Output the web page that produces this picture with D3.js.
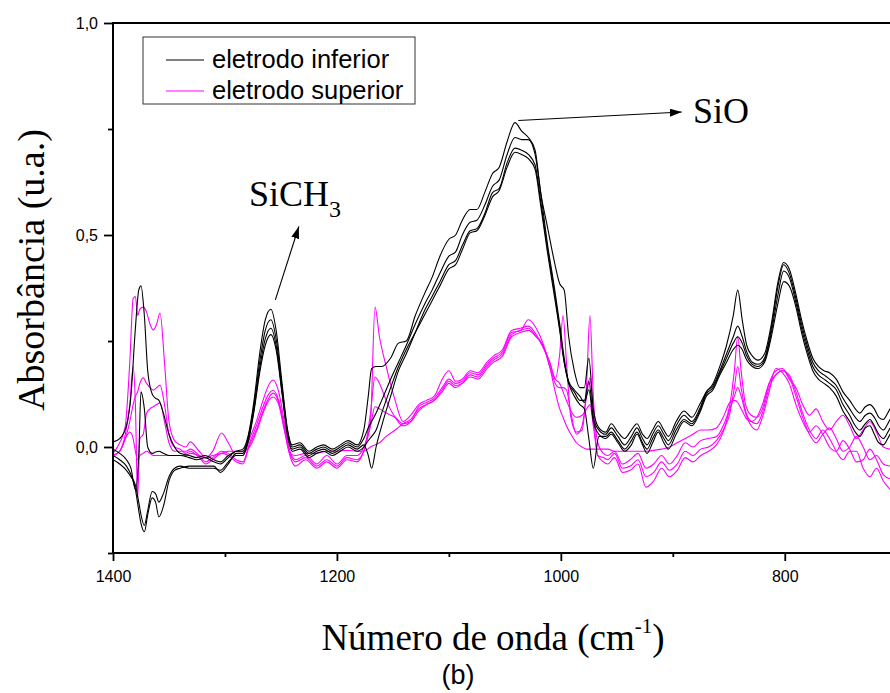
<!DOCTYPE html>
<html><head><meta charset="utf-8">
<script src="https://cdn.jsdelivr.net/npm/d3@7"></script>
<style>body{margin:0;background:#fff}svg{display:block}</style>
</head><body><svg id="c" width="890" height="693"></svg>
<script>
// ---------- DATA ----------
const seriesNames = ["eletrodo inferior", "eletrodo superior"];
const yTickLabels = ["0,0", "0,5", "1,0"];
const yTickValues = [0, 0.5, 1.0];
const yMinorTicks = [-0.25, 0.25, 0.75];
const xTickValues = [1400, 1200, 1000, 800];
const xMinorTicks = [1300, 1100, 900];

// wavenumbers (cm-1) for the "inferior" (black) spectra
const wnInferior = [1400,1394,1388,1384,1380,1377,1375,1372,1369,1365,1362,1359,1355,1350,1345,1340,
  1332,1325,1318,1310,1304,1297,1290,1284,
  1279,1274,1269,1264,1259,1254,1249,1244,1240,
  1233,1225,1218,1212,1204,1197,1190,1182,1176,
  1172,1169,1165,1160,1152,1145,1138,1130,
  1122,1115,1108,1100,1094,1088,1081,1075,1068,1061,1055,1048,1041,1035,1029,1023,
  1018,1012,1006,1001,997,993,988,983,979,975,971,966,960,
  955,949,943,937,932,927,923,918,913,908,904,897,890,883,876,870,
  864,858,852,846,842,838,834,829,824,818,812,806,
  801,796,790,785,780,775,770,765,760,754,748,742,737,733,728,724,720,716,712,708,706];

const inferior1 = [0.012,0.02,0.05,0.12,0.28,0.37,0.38,0.31,0.18,0.125,0.115,0.11,0.08,0.03,0.0,-0.015,
  -0.02,-0.025,-0.02,-0.03,-0.035,-0.02,-0.01,-0.005,
  0.03,0.11,0.22,0.3,0.325,0.27,0.15,0.04,0.005,
  0.01,-0.01,0.0,0.005,-0.005,0.005,0.015,0.005,0.04,
  0.12,0.185,0.19,0.19,0.21,0.245,0.25,0.31,
  0.36,0.4,0.45,0.49,0.5,0.535,0.56,0.56,0.6,0.645,0.66,0.72,0.765,0.745,0.73,0.7,
  0.6,0.52,0.44,0.385,0.37,0.26,0.18,0.14,0.14,0.21,0.09,0.045,0.035,
  0.055,0.035,0.02,0.04,0.055,0.03,0.02,0.04,0.06,0.04,0.025,0.06,0.085,0.07,0.1,0.13,
  0.15,0.19,0.24,0.31,0.37,0.3,0.24,0.215,0.205,0.22,0.29,0.39,
  0.435,0.42,0.36,0.3,0.25,0.21,0.19,0.18,0.175,0.16,0.13,0.11,0.09,0.08,0.095,0.1,0.09,0.07,0.065,0.08,0.09];

const inferior2 = [-0.005,-0.015,-0.03,-0.05,-0.1,-0.02,0.13,0.09,0.0,-0.015,-0.012,-0.01,-0.015,-0.02,-0.02,-0.02,
  -0.025,-0.03,-0.025,-0.035,-0.04,-0.025,-0.01,-0.01,
  0.025,0.1,0.2,0.275,0.3,0.25,0.14,0.035,0.0,
  0.005,-0.015,-0.005,0.0,-0.01,0.0,0.01,0.0,0.02,
  0.045,0.06,0.08,0.11,0.16,0.2,0.24,0.29,
  0.335,0.37,0.41,0.45,0.46,0.5,0.53,0.535,0.57,0.615,0.63,0.69,0.73,0.725,0.725,0.69,
  0.6,0.48,0.38,0.29,0.21,0.15,0.13,0.11,0.11,0.155,0.07,0.04,0.03,
  0.045,0.025,0.005,0.025,0.045,0.02,0.005,0.03,0.05,0.03,0.015,0.05,0.075,0.06,0.09,0.13,
  0.145,0.18,0.22,0.26,0.285,0.26,0.225,0.2,0.195,0.21,0.28,0.38,
  0.43,0.41,0.35,0.29,0.24,0.2,0.18,0.17,0.16,0.145,0.115,0.09,0.07,0.06,0.075,0.08,0.07,0.05,0.04,0.055,0.065];

const inferior3 = [-0.02,-0.03,-0.045,-0.065,-0.1,-0.15,-0.18,-0.2,-0.16,-0.12,-0.13,-0.165,-0.14,-0.08,-0.055,-0.05,
  -0.045,-0.045,-0.045,-0.045,-0.06,-0.04,-0.015,-0.015,
  0.02,0.09,0.185,0.255,0.28,0.235,0.13,0.03,-0.005,
  0.0,-0.02,-0.01,-0.005,-0.015,-0.005,0.005,-0.005,0.005,
  -0.02,-0.05,0.0,0.05,0.12,0.18,0.22,0.27,
  0.32,0.355,0.39,0.43,0.44,0.475,0.51,0.515,0.55,0.6,0.61,0.67,0.705,0.7,0.69,0.665,
  0.58,0.47,0.37,0.28,0.2,0.15,0.12,0.1,0.09,0.02,-0.05,0.025,0.025,
  0.035,0.015,-0.005,0.015,0.035,0.01,-0.005,0.02,0.04,0.02,0.005,0.04,0.065,0.055,0.085,0.125,
  0.14,0.175,0.21,0.245,0.26,0.245,0.215,0.195,0.19,0.205,0.27,0.36,
  0.415,0.4,0.34,0.28,0.23,0.19,0.17,0.16,0.15,0.135,0.1,0.075,0.05,0.04,0.055,0.065,0.05,0.03,0.02,0.035,0.045];

const inferior4 = [-0.03,-0.04,-0.055,-0.07,-0.09,-0.13,-0.16,-0.185,-0.15,-0.105,-0.11,-0.13,-0.11,-0.07,-0.05,-0.045,
  -0.05,-0.05,-0.05,-0.05,-0.055,-0.035,-0.02,-0.02,
  0.015,0.085,0.175,0.24,0.265,0.225,0.125,0.025,-0.01,
  -0.005,-0.025,-0.015,-0.01,-0.02,-0.01,0.0,-0.01,0.0,
  0.015,0.025,0.04,0.08,0.14,0.19,0.23,0.27,
  0.31,0.345,0.38,0.42,0.43,0.465,0.505,0.51,0.545,0.59,0.605,0.66,0.695,0.69,0.68,0.655,
  0.57,0.46,0.36,0.275,0.2,0.155,0.135,0.12,0.105,0.135,0.06,0.03,0.02,
  0.03,0.01,-0.01,0.005,0.03,0.005,-0.015,0.01,0.035,0.01,-0.005,0.03,0.06,0.05,0.08,0.12,
  0.135,0.17,0.2,0.23,0.24,0.23,0.205,0.19,0.185,0.2,0.26,0.34,
  0.39,0.38,0.33,0.27,0.22,0.18,0.16,0.15,0.14,0.12,0.085,0.06,0.035,0.025,0.045,0.05,0.03,0.01,0.005,0.02,0.03];

// wavenumbers (cm-1) for the "superior" (magenta) spectra
const wnSuperior = [1400,1394,1389,1385,1382,1380,1378,1376,1373,1370,1367,1364,1361,1358,1354,1350,1345,1340,
  1335,1331,1323,1317,1311,1303,1297,1290,1284,
  1278,1272,1266,1262,1257,1252,1247,1242,
  1237,1228,1218,1209,1200,1191,1182,1176,
  1170,1166,1162,1156,1148,1141,1134,
  1127,1120,1113,1106,1100,1094,1088,1081,1074,1066,1060,1052,1044,1036,1029,1022,1016,
  1010,1005,1001,998,995,991,986,981,977,974,971,967,962,
  958,952,945,938,931,924,917,910,903,896,889,882,875,868,861,
  855,849,845,842,839,835,830,825,820,814,808,
  802,796,790,784,778,772,766,760,754,748,742,736,730,724,718,712,706];

const superior1 = [-0.015,0.01,0.05,0.2,0.35,0.355,0.31,0.325,0.33,0.318,0.29,0.276,0.29,0.316,0.2,0.06,0.015,0.005,
  0.0,0.012,-0.01,-0.025,-0.01,0.033,0.01,-0.02,-0.02,
  0.02,0.06,0.11,0.14,0.158,0.13,0.06,-0.01,
  -0.03,-0.02,-0.04,-0.02,-0.04,-0.02,-0.02,0.0,
  0.06,0.33,0.26,0.19,0.11,0.06,0.075,
  0.1,0.11,0.12,0.16,0.18,0.155,0.16,0.18,0.175,0.2,0.215,0.23,0.275,0.28,0.285,0.265,0.235,
  0.2,0.16,0.22,0.31,0.2,0.07,0.035,0.04,0.15,0.31,0.12,0.01,-0.015,
  -0.02,-0.01,-0.04,-0.03,-0.015,-0.05,-0.04,-0.02,-0.04,-0.02,0.01,0.0,0.015,0.02,0.025,
  0.05,0.1,0.18,0.26,0.18,0.1,0.075,0.07,0.09,0.15,0.18,
  0.185,0.16,0.14,0.1,0.075,0.09,0.06,0.04,0.06,0.075,0.05,0.02,0.04,0.06,0.035,0.0,-0.005];

const superior2 = [-0.02,-0.01,0.03,0.1,0.19,0.1,-0.12,0.02,0.03,0.08,0.09,0.095,0.1,0.104,0.06,0.01,-0.01,-0.01,
  -0.01,-0.005,-0.02,-0.035,-0.025,-0.01,-0.015,-0.03,-0.035,
  0.01,0.05,0.095,0.12,0.134,0.11,0.05,-0.015,
  -0.035,-0.025,-0.045,-0.03,-0.045,-0.025,-0.03,-0.01,
  0.08,0.165,0.15,0.11,0.07,0.05,0.06,
  0.095,0.105,0.115,0.14,0.16,0.15,0.155,0.175,0.17,0.195,0.21,0.225,0.27,0.275,0.3,0.28,0.245,
  0.19,0.15,0.14,0.14,0.135,0.08,0.03,0.05,0.12,0.163,0.08,-0.02,-0.025,
  -0.03,-0.015,-0.05,-0.045,-0.03,-0.07,-0.06,-0.035,-0.055,-0.04,-0.01,-0.02,-0.005,0.0,0.015,
  0.04,0.08,0.14,0.19,0.14,0.085,0.06,0.055,0.08,0.14,0.17,
  0.18,0.165,0.12,0.07,0.03,0.01,0.03,0.045,0.02,-0.01,0.0,0.025,0.0,-0.03,-0.02,-0.04,-0.045];

const superior3 = [-0.02,-0.01,0.02,0.06,0.1,0.12,0.13,0.15,0.163,0.15,0.14,0.134,0.14,0.146,0.1,0.03,0.0,-0.005,
  -0.015,-0.01,-0.025,-0.04,-0.03,-0.015,-0.02,-0.035,-0.04,
  0.005,0.04,0.085,0.11,0.127,0.105,0.045,-0.02,
  -0.045,-0.03,-0.05,-0.035,-0.05,-0.03,-0.035,-0.01,
  0.05,0.095,0.09,0.08,0.07,0.055,0.06,
  0.085,0.1,0.11,0.135,0.155,0.145,0.15,0.17,0.165,0.19,0.205,0.22,0.265,0.275,0.28,0.26,0.24,
  0.2,0.16,0.15,0.13,0.11,0.085,0.07,0.075,0.09,0.1,0.05,-0.02,-0.035,
  -0.04,-0.025,-0.06,-0.055,-0.04,-0.095,-0.08,-0.05,-0.07,-0.055,-0.025,-0.035,-0.02,-0.01,0.005,
  0.035,0.09,0.12,0.14,0.12,0.08,0.05,0.04,0.07,0.13,0.185,
  0.175,0.15,0.1,0.06,0.035,0.05,0.03,0.0,-0.01,0.015,-0.005,-0.035,-0.03,-0.005,-0.03,-0.065,-0.075];

const superior4 = [-0.02,-0.01,0.02,0.035,0.02,-0.01,-0.03,-0.02,-0.015,-0.01,-0.015,-0.02,-0.02,-0.02,-0.02,-0.02,-0.02,-0.02,
  -0.02,-0.015,-0.02,-0.025,-0.02,-0.015,-0.01,-0.01,-0.01,
  0.0,0.035,0.08,0.105,0.118,0.1,0.04,-0.015,
  -0.02,-0.015,-0.015,-0.01,-0.01,-0.008,-0.01,-0.01,
  0.0,0.005,0.01,0.025,0.04,0.055,0.065,
  0.09,0.1,0.11,0.13,0.15,0.14,0.15,0.165,0.16,0.185,0.2,0.215,0.26,0.27,0.275,0.26,0.24,
  0.19,0.13,0.09,0.07,0.05,0.03,0.01,0.0,-0.005,-0.005,-0.005,-0.005,-0.005,
  -0.005,-0.01,-0.01,-0.01,-0.01,-0.01,-0.008,-0.005,0.0,0.01,0.02,0.03,0.04,0.04,0.045,
  0.07,0.105,0.11,0.105,0.09,0.07,0.06,0.07,0.1,0.15,0.17,
  0.18,0.17,0.13,0.08,0.04,0.02,0.04,0.02,-0.01,-0.03,-0.01,-0.01,-0.05,-0.07,-0.05,-0.08,-0.1];

// annotation anchors (data units)
const annotSiO = {from: [1038, 0.77], to: [892, 0.79], label: "SiO"};
const annotSiCH3 = {from: [1255, 0.347], to: [1234, 0.52], label: "SiCH"};

// ---------- DRAW ----------
const svg = d3.select("#c");
svg.append("rect").attr("width", 890).attr("height", 693).attr("fill", "#fff");

const x = d3.scaleLinear().domain([1400, 706]).range([113, 890]);
const y = d3.scaleLinear().domain([-0.25, 1.0]).range([553, 23]);

const groups = [
  {wn: wnInferior, series: [inferior1, inferior2, inferior3, inferior4], color: "#000000"},
  {wn: wnSuperior, series: [superior1, superior2, superior3, superior4], color: "#ff00ff"}
];
groups.forEach(g => g.series.forEach((s, i) => {
  if (s.length !== g.wn.length) throw new Error("length mismatch " + g.color + " #" + i + ": " + s.length + " vs " + g.wn.length);
}));

svg.append("defs").append("clipPath").attr("id", "plot")
  .append("rect").attr("x", 113).attr("y", 23).attr("width", 777).attr("height", 530);

const line = d3.line().x(d => x(d[0])).y(d => y(d[1])).curve(d3.curveMonotoneX);
const plotG = svg.append("g").attr("clip-path", "url(#plot)");
// magenta first, black on top
[groups[1], groups[0]].forEach(g => {
  g.series.forEach(s => {
    plotG.append("path")
      .attr("d", line(g.wn.map((w, i) => [w, s[i]])))
      .attr("fill", "none").attr("stroke", g.color).attr("stroke-width", 1.1);
  });
});

// axes
const fmt = d => yTickLabels[yTickValues.indexOf(d)];
const yAxis = svg.append("g").attr("transform", "translate(113,0)")
  .call(d3.axisLeft(y).tickValues(yTickValues).tickSize(9).tickPadding(6).tickFormat(fmt));
const yMinor = svg.append("g").attr("transform", "translate(113,0)")
  .call(d3.axisLeft(y).tickValues(yMinorTicks).tickSize(5).tickFormat(""));
const xAxis = svg.append("g").attr("transform", "translate(0,553)")
  .call(d3.axisBottom(x).tickValues(xTickValues).tickSize(8).tickPadding(10).tickFormat(d3.format("d")));
const xMinor = svg.append("g").attr("transform", "translate(0,553)")
  .call(d3.axisBottom(x).tickValues(xMinorTicks).tickSize(4).tickFormat(""));
[yAxis, yMinor, xAxis, xMinor].forEach(a => {
  a.selectAll(".domain").remove();
  a.selectAll("line").attr("stroke", "#000").attr("stroke-width", 1.8);
  a.selectAll("text").attr("font-family", "Liberation Sans, Arial, sans-serif").attr("font-size", 16).attr("fill", "#000");
});
// frame lines
svg.append("line").attr("x1", 113).attr("x2", 113).attr("y1", y(1.0)).attr("y2", y(-0.25)).attr("stroke", "#000").attr("stroke-width", 2);
svg.append("line").attr("x1", 112).attr("x2", 890).attr("y1", y(-0.25)).attr("y2", y(-0.25)).attr("stroke", "#000").attr("stroke-width", 2);
svg.append("line").attr("x1", 112).attr("x2", 890).attr("y1", y(1.0)).attr("y2", y(1.0)).attr("stroke", "#000").attr("stroke-width", 2);

// axis titles
const serif = "Liberation Serif, Times New Roman, serif";
const xt = svg.append("text").attr("x", 493).attr("y", 650).attr("text-anchor", "middle")
  .attr("font-family", serif).attr("font-size", 37).attr("fill", "#000");
xt.append("tspan").text("Número de onda (cm");
xt.append("tspan").attr("dy", -17).attr("font-size", 21).text("-1");
xt.append("tspan").attr("dy", 17).text(")");

svg.append("text").attr("transform", "translate(44,270) rotate(-90)").attr("text-anchor", "middle")
  .attr("font-family", serif).attr("font-size", 38).attr("fill", "#000").text("Absorbância (u.a.)");

svg.append("text").attr("x", 458).attr("y", 684).attr("text-anchor", "middle")
  .attr("font-family", "Liberation Sans, Arial, sans-serif").attr("font-size", 27).attr("fill", "#000").text("(b)");

// legend
const lg = svg.append("g");
lg.append("rect").attr("x", 143).attr("y", 37).attr("width", 272).attr("height", 67)
  .attr("fill", "#fff").attr("stroke", "#333").attr("stroke-width", 1);
const legendColors = ["#000000", "#ff00ff"];
seriesNames.forEach((n, i) => {
  const yy = 60 + i * 31;
  lg.append("line").attr("x1", 166).attr("x2", 204).attr("y1", yy).attr("y2", yy)
    .attr("stroke", legendColors[i]).attr("stroke-width", 1.2);
  lg.append("text").attr("x", 212).attr("y", yy + 8).attr("font-family", "Liberation Sans, Arial, sans-serif")
    .attr("font-size", 25.5).attr("fill", "#000").text(n);
});

// annotations
const defs = svg.select("defs");
defs.append("marker").attr("id", "arr").attr("viewBox", "0 0 12 8").attr("refX", 12).attr("refY", 4)
  .attr("markerWidth", 12).attr("markerHeight", 8).attr("markerUnits", "userSpaceOnUse").attr("orient", "auto")
  .append("path").attr("d", "M0,0 L12,4 L0,8 Z").attr("fill", "#000");

[annotSiO, annotSiCH3].forEach(a => {
  svg.append("line").attr("x1", x(a.from[0])).attr("y1", y(a.from[1]))
    .attr("x2", x(a.to[0])).attr("y2", y(a.to[1]))
    .attr("stroke", "#000").attr("stroke-width", 1.1).attr("marker-end", "url(#arr)");
});
svg.append("text").attr("x", 693).attr("y", 123).attr("font-family", serif).attr("font-size", 36)
  .attr("fill", "#000").text(annotSiO.label);
const st = svg.append("text").attr("x", 249).attr("y", 206).attr("font-family", serif).attr("font-size", 36).attr("fill", "#000");
st.append("tspan").text(annotSiCH3.label);
st.append("tspan").attr("dy", 11).attr("font-size", 24).text("3");
</script>
</body></html>
